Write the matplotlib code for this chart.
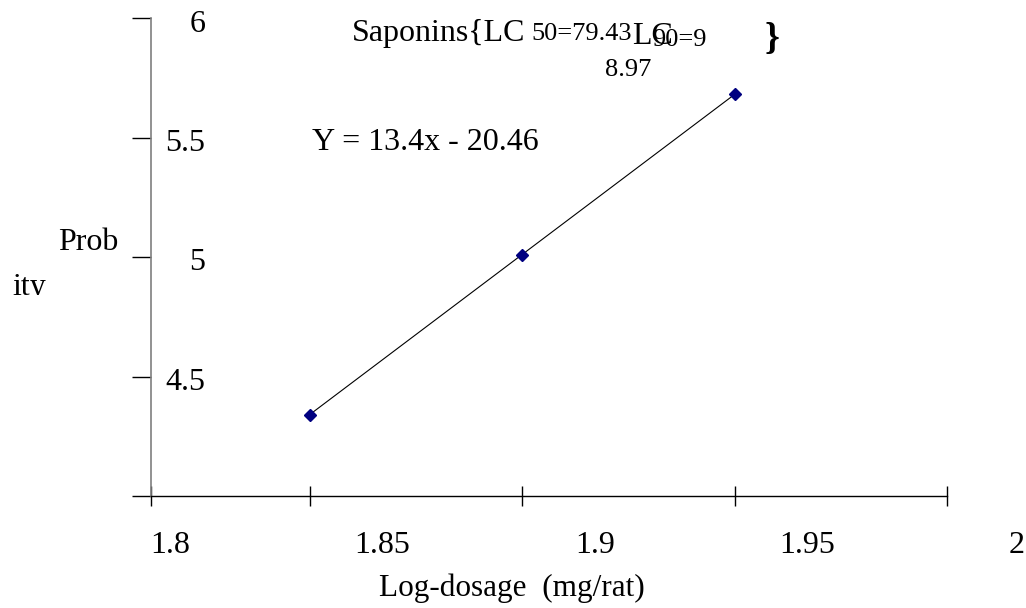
import matplotlib
matplotlib.use("Agg")
import matplotlib.pyplot as plt
from matplotlib.transforms import Bbox, ScaledTranslation, blended_transform_factory

plt.rcParams['font.family'] = ['Liberation Serif', 'DejaVu Serif']

# data
log_dose = [1.85, 1.90, 1.95]
probit = [4.34, 5.01, 5.68]

x_ticks = [1.85, 1.90, 1.95, 2.00]
x_tick_labels = ['1.8', '1.85', '1.9', '1.95', '2']
x_label_pos = [1.80, 1.85, 1.90, 1.95, 2.00]
y_ticks = [4.5, 5.0, 5.5, 6.0]
y_tick_labels = ['4.5', '5', '5.5', '6']

fig = plt.figure(figsize=(10.26, 6.08), dpi=100)
ax = fig.add_axes([151/1026, 112/608, 796/1026, 478/608])

ax.plot(log_dose, probit, color='black', linewidth=0.8,
        marker='D', markersize=6.5, markerfacecolor='#000080',
        markeredgecolor='#000080')

ax.set_xlim(1.8127, 2.0)
ax.set_ylim(4.0, 6.0)

for s in ['top', 'right']:
    ax.spines[s].set_visible(False)
ax.spines['left'].set_color('#7f7f7f')
ax.spines['left'].set_linewidth(1.2)
ax.spines['bottom'].set_linewidth(1.0)

# x ticks cross the axis, labels are drawn shifted to the right
ax.set_xticks([ax.get_xlim()[0]] + x_ticks)
ax.set_xticklabels([])
ax.tick_params(axis='x', direction='inout', length=14, width=1.0)
trans = blended_transform_factory(ax.transData, ax.transAxes)
for pos, lab in zip(x_label_pos, x_tick_labels):
    shift = 0.0163 if lab == '2' else 0.0172
    ax.text(pos + shift, -0.103, lab, transform=trans, ha='center',
            va='center', fontsize=23, clip_on=False)

# y ticks stick out left, labels sit right of the axis line
ax.set_yticks([4.0] + y_ticks)
ax.set_yticklabels([''] + y_tick_labels, fontsize=23)
ax.tick_params(axis='y', direction='out', length=14, width=1.0, pad=-53)
down = ScaledTranslation(0, -6/100, fig.dpi_scale_trans)
for lab in ax.get_yticklabels():
    lab.set_verticalalignment('center')
    lab.set_transform(lab.get_transform() + down)

fig.text(512/1026, 1 - 588/608, 'Log-dosage  (mg/rat)',
         ha='center', va='center', fontsize=22.5)

# broken axis title on the left
fig.text(58/1026, 1 - 243/608, 'Prob', ha='left', va='center', fontsize=23)
t = fig.text(12/1026, 1 - 287/608, 'ity', ha='left', va='center', fontsize=23)
t.set_clip_box(Bbox([[0, 608 - 295], [200, 608]]))

# chart title with overlapping pieces
fig.text(352/1026, 1 - 33/608, 'Saponins{LC', ha='left', va='center', fontsize=23)
fig.text(531/1026, 1 - 34/608, '50=79.43', ha='left', va='center', fontsize=19)
fig.text(632/1026, 1 - 36/608, 'LC', ha='left', va='center', fontsize=23)
fig.text(652/1026, 1 - 40/608, '90=9', ha='left', va='center', fontsize=19)
fig.text(605/1026, 1 - 70/608, '8.97', ha='left', va='center', fontsize=19)
fig.text(765/1026, 1 - 39/608, '}', ha='left', va='center', fontsize=27,
         fontweight='bold')

fig.text(312/1026, 1 - 143/608, 'Y = 13.4x - 20.46', ha='left', va='center',
         fontsize=23)

fig.savefig('out.png', dpi=100)
